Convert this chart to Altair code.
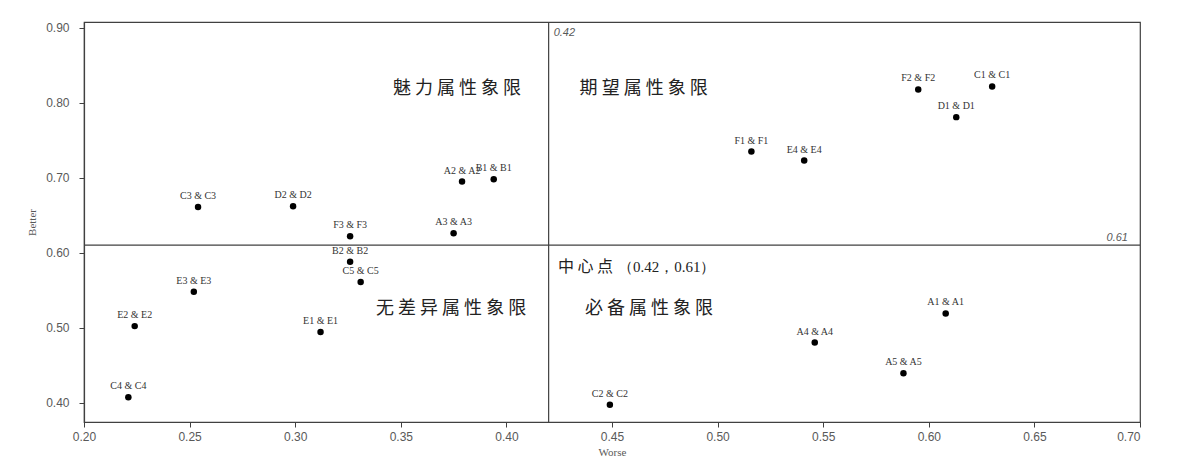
import altair as alt
import pandas as pd

# ---- data ----
labels = ["C3 & C3", "D2 & D2", "F3 & F3", "A3 & A3", "A2 & A2", "B1 & B1",
          "F1 & F1", "E4 & E4", "F2 & F2", "C1 & C1", "D1 & D1", "B2 & B2",
          "C5 & C5", "E3 & E3", "E2 & E2", "E1 & E1", "C4 & C4", "C2 & C2",
          "A1 & A1", "A4 & A4", "A5 & A5"]
worse = [0.254, 0.299, 0.326, 0.375, 0.379, 0.394,
         0.516, 0.541, 0.595, 0.630, 0.613, 0.326,
         0.331, 0.252, 0.224, 0.312, 0.221, 0.449,
         0.608, 0.546, 0.588]
better = [0.661, 0.662, 0.622, 0.626, 0.695, 0.698,
          0.735, 0.723, 0.818, 0.822, 0.781, 0.588,
          0.561, 0.548, 0.502, 0.494, 0.407, 0.397,
          0.519, 0.480, 0.439]

center_x = 0.42
center_y = 0.61

quadrant_names = ["魅力属性象限", "期望属性象限", "无差异属性象限", "必备属性象限"]
quadrant_x = [0.3766, 0.465, 0.3738, 0.4675]
quadrant_y = [0.818, 0.818, 0.525, 0.525]

x_ticks = [0.20, 0.25, 0.30, 0.35, 0.40, 0.45, 0.50, 0.55, 0.60, 0.65, 0.70]
y_ticks = [0.40, 0.50, 0.60, 0.70, 0.80, 0.90]
x_domain = [0.20, 0.70]
y_domain = [0.374, 0.908]

W, H = 1056, 400

df = pd.DataFrame({"label": labels, "Worse": worse, "Better": better})
qdf = pd.DataFrame({"name": [" ".join(list(n)) for n in quadrant_names],
                    "x": quadrant_x, "y": quadrant_y})

xs = alt.Scale(domain=x_domain, nice=False, zero=False)
ys = alt.Scale(domain=y_domain, nice=False, zero=False)

points = alt.Chart(df).mark_circle(size=42, color="black", opacity=1).encode(
    x=alt.X("Worse:Q", scale=xs, title="Worse",
            axis=alt.Axis(values=x_ticks, format=".2f", labelFlush=False,
                          labelAlign={"condition": {"test": "datum.value >= 0.699",
                                                    "value": "right"},
                                      "value": "center"})),
    y=alt.Y("Better:Q", scale=ys, title="Better",
            axis=alt.Axis(values=y_ticks, format=".2f")),
)

point_labels = alt.Chart(df).mark_text(
    font="Liberation Serif", fontSize=10, color="#333333", dy=-6, baseline="bottom"
).encode(x=alt.X("Worse:Q", scale=xs), y=alt.Y("Better:Q", scale=ys), text="label:N")

vline = alt.Chart(pd.DataFrame({"x": [center_x]})).mark_rule(
    color="#404040", strokeWidth=1.2
).encode(x=alt.X("x:Q", scale=xs))

hline = alt.Chart(pd.DataFrame({"y": [center_y]})).mark_rule(
    color="#404040", strokeWidth=1.2
).encode(y=alt.Y("y:Q", scale=ys))

vlabel = alt.Chart(pd.DataFrame({"x": [center_x], "t": [f"{center_x:.2f}"]})).mark_text(
    font="Liberation Sans", fontStyle="italic", fontSize=11, color="#595959",
    align="left", baseline="middle", dx=5
).encode(x=alt.X("x:Q", scale=xs), y=alt.value(11), text="t:N")

hlabel = alt.Chart(pd.DataFrame({"y": [center_y], "t": [f"{center_y:.2f}"]})).mark_text(
    font="Liberation Sans", fontStyle="italic", fontSize=11, color="#595959",
    align="right", baseline="bottom", dy=-2
).encode(x=alt.value(W - 12), y=alt.Y("y:Q", scale=ys), text="t:N")

quads = alt.Chart(qdf).mark_text(
    font="Noto Sans CJK SC", fontSize=18, color="#222222", align="center",
    baseline="middle", fontWeight="normal"
).encode(x=alt.X("x:Q", scale=xs), y=alt.Y("y:Q", scale=ys), text="name:N")

center_df = pd.DataFrame({"x": [0.4244], "y": [0.5807],
                          "t": ["中 心 点"], "n": [f"（{center_x:.2f}，{center_y:.2f}）"]})
center_cn = alt.Chart(center_df).mark_text(
    font="Noto Sans CJK SC", fontSize=16, color="#222222", align="left",
    baseline="middle"
).encode(x=alt.X("x:Q", scale=xs), y=alt.Y("y:Q", scale=ys), text="t:N")
center_num = alt.Chart(center_df).mark_text(
    font="Liberation Serif", fontSize=15, color="#222222", align="left",
    baseline="middle", dx=60
).encode(x=alt.X("x:Q", scale=xs), y=alt.Y("y:Q", scale=ys), text="n:N")

chart = alt.layer(
    vline, hline, points, point_labels, vlabel, hlabel, quads, center_cn, center_num
).properties(
    width=W, height=H,
    autosize=alt.AutoSizeParams(type="none"),
    padding={"left": 76, "top": 14, "right": 40, "bottom": 45},
).configure_view(
    stroke="#404040", strokeWidth=1.2
).configure_axis(
    grid=False,
    domainColor="#404040", domainWidth=1.2,
    tickColor="#404040", tickSize=5,
    labelColor="#595959", labelFont="Liberation Sans", labelFontSize=12,
    titleColor="#595959", titleFont="Liberation Serif", titleFontSize=11,
    titleFontWeight="normal",
).configure_axisY(
    labelPadding=10, titlePadding=8,
).configure_axisX(
    labelPadding=4, titlePadding=4,
)

chart.save("out.html", embed_options={"renderer": "svg", "actions": False})
